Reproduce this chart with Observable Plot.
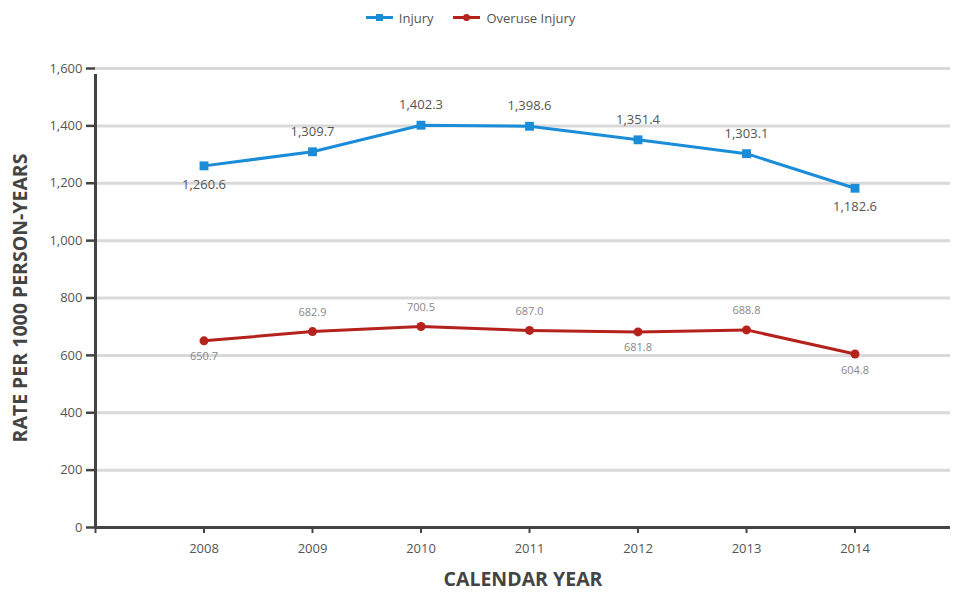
<!DOCTYPE html>
<html>
<head>
<meta charset="utf-8">
<script src="https://cdn.jsdelivr.net/npm/d3@7"></script>
<script src="https://cdn.jsdelivr.net/npm/@observablehq/plot@0.6"></script>
<style>
  body { margin: 0; background: #fff; font-family: "Open Sans", "Noto Sans", sans-serif; }
  #legend { height: 35px; display: flex; justify-content: center; align-items: center; gap: 20px; font-size: 13px; color: #555; padding-right: 12px; box-sizing: border-box; }
  #legend .item { display: flex; align-items: center; gap: 6px; }
</style>
</head>
<body>
<div id="legend"></div>
<div id="chart"></div>
<script>
const years = [2008, 2009, 2010, 2011, 2012, 2013, 2014];
const injury = [1260.6, 1309.7, 1402.3, 1398.6, 1351.4, 1303.1, 1182.6];
const overuse = [650.7, 682.9, 700.5, 687.0, 681.8, 688.8, 604.8];
const yTicks = [0, 200, 400, 600, 800, 1000, 1200, 1400, 1600];
const seriesNames = ["Injury", "Overuse Injury"];
const colors = ["#1a8cd8", "#b5211d"];

const fmt = d3.format(",.1f");
function rows(vals, name) {
  return vals.map((v, i) => {
    const nb = [vals[i - 1], vals[i + 1]].filter(x => x !== undefined);
    const below = nb.every(x => v < x);
    return {year: years[i], value: v, series: name, below};
  });
}
const inj = rows(injury, seriesNames[0]);
const ovr = rows(overuse, seriesNames[1]);

// legend
const legend = document.getElementById("legend");
seriesNames.forEach((n, i) => {
  const item = document.createElement("div");
  item.className = "item";
  const marker = i === 0
    ? `<rect x="10" y="3" width="7" height="7" fill="${colors[i]}"/>`
    : `<circle cx="13.5" cy="6.5" r="3.5" fill="${colors[i]}"/>`;
  item.innerHTML = `<svg width="27" height="13"><line x1="0" x2="27" y1="6.5" y2="6.5" stroke="${colors[i]}" stroke-width="3"/>${marker}</svg><span>${n}</span>`;
  legend.appendChild(item);
});

const axisColor = "#444";
const chart = Plot.plot({
  width: 953,
  height: 561,
  marginLeft: 95,
  marginRight: 3,
  marginTop: 33,
  marginBottom: 69,
  style: {fontFamily: "'Open Sans', 'Noto Sans', sans-serif", background: "#fff"},
  x: {domain: [2007, 2014.88], ticks: years, tickFormat: d => d},
  y: {domain: [0, 1600]},
  marks: [
    Plot.ruleY(yTicks.filter(d => d > 0), {stroke: "#d9d9d9", strokeWidth: 3}),
    Plot.axisY({ticks: yTicks, tickFormat: d3.format(","), tickSize: 9, tickPadding: 4, stroke: axisColor, strokeWidth: 2.5, fontSize: 13, color: "#555", label: null}),
    Plot.axisX({ticks: [2007, ...years], tickFormat: d => d === 2007 ? "" : String(d), tickSize: 6, tickPadding: 10, stroke: axisColor, strokeWidth: 2, fontSize: 13, color: "#555", label: null}),
    Plot.ruleY([0], {stroke: axisColor, strokeWidth: 3}),
    Plot.ruleX([2007], {y1: 0, y2: 1600, stroke: axisColor, strokeWidth: 3, insetBottom: -6}),
    Plot.line(inj, {x: "year", y: "value", stroke: colors[0], strokeWidth: 3}),
    Plot.line(ovr, {x: "year", y: "value", stroke: colors[1], strokeWidth: 3}),
    Plot.dot(inj, {x: "year", y: "value", symbol: "square", r: 5, fill: colors[0]}),
    Plot.dot(ovr, {x: "year", y: "value", r: 4.5, fill: colors[1]}),
    Plot.text(inj, {x: "year", y: "value", text: d => fmt(d.value), fill: "#555", fontSize: 13,
      filter: d => !d.below, dy: -20}),
    Plot.text(inj, {x: "year", y: "value", text: d => fmt(d.value), fill: "#555", fontSize: 13,
      filter: d => d.below, dy: 19}),
    Plot.text(ovr, {x: "year", y: "value", text: d => fmt(d.value), fill: "#888", fontSize: 11,
      filter: d => !d.below, dy: -19}),
    Plot.text(ovr, {x: "year", y: "value", text: d => fmt(d.value), fill: "#888", fontSize: 11,
      filter: d => d.below, dy: 16}),
    Plot.text(["RATE PER 1000 PERSON-YEARS"], {frameAnchor: "left", textAnchor: "middle", rotate: -90, dx: -75, fontSize: 19.5, fontWeight: "bold", fill: "#444"}),
    Plot.text(["CALENDAR YEAR"], {frameAnchor: "bottom", dy: 58, fontSize: 19.5, fontWeight: "bold", fill: "#444"})
  ]
});
document.getElementById("chart").appendChild(chart);
</script>
</body>
</html>
